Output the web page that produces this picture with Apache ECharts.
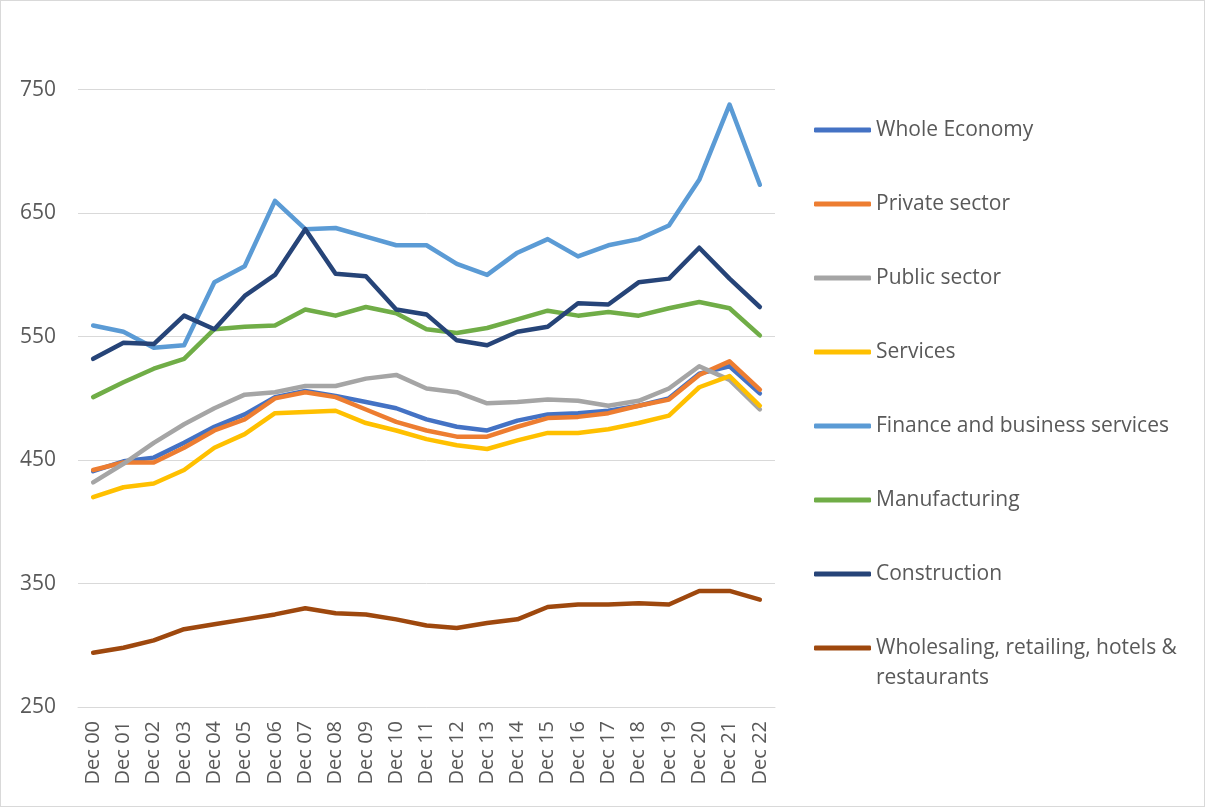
<!DOCTYPE html>
<html>
<head>
<meta charset="utf-8">
<script src="https://cdn.jsdelivr.net/npm/echarts@6/dist/echarts.min.js"></script>
<style>
  html, body { margin: 0; padding: 0; background: #fff; }
  #chart { width: 1203px; height: 805px; border: 1px solid #d9d9d9; }
</style>
</head>
<body>
<div id="chart"></div>
<script>
// categories
var years = ['Dec 00','Dec 01','Dec 02','Dec 03','Dec 04','Dec 05','Dec 06','Dec 07','Dec 08','Dec 09','Dec 10','Dec 11',
             'Dec 12','Dec 13','Dec 14','Dec 15','Dec 16','Dec 17','Dec 18','Dec 19','Dec 20','Dec 21','Dec 22'];

// series values
var wholeEconomy  = [441, 449, 452, 464, 477, 487, 501, 506, 502, 497, 492, 483, 477, 474, 482, 487, 488, 490, 494, 500, 520, 526, 504];
var privateSector = [442, 448, 448, 460, 474, 483, 500, 505, 501, 491, 481, 474, 469, 469, 477, 484, 485, 488, 494, 499, 519, 530, 507];
var publicSector  = [432, 447, 464, 479, 492, 503, 505, 510, 510, 516, 519, 508, 505, 496, 497, 499, 498, 494, 498, 508, 526, 515, 491];
var services      = [420, 428, 431, 442, 460, 471, 488, 489, 490, 480, 474, 467, 462, 459, 466, 472, 472, 475, 480, 486, 509, 518, 494];
var finance       = [559, 554, 541, 543, 594, 607, 660, 637, 638, 631, 624, 624, 609, 600, 618, 629, 615, 624, 629, 640, 677, 738, 673];
var manufacturing = [501, 513, 524, 532, 556, 558, 559, 572, 567, 574, 569, 556, 553, 557, 564, 571, 567, 570, 567, 573, 578, 573, 551];
var construction  = [532, 545, 544, 567, 556, 583, 600, 637, 601, 599, 572, 568, 547, 543, 554, 558, 577, 576, 594, 597, 622, 597, 574];
var wholesaling   = [294, 298, 304, 313, 317, 321, 325, 330, 326, 325, 321, 316, 314, 318, 321, 331, 333, 333, 334, 333, 344, 344, 337];

var seriesNames = ['Whole Economy', 'Private sector', 'Public sector', 'Services',
                   'Finance and business services', 'Manufacturing', 'Construction',
                   'Wholesaling, retailing, hotels & restaurants'];
var seriesData = [wholeEconomy, privateSector, publicSector, services, finance, manufacturing, construction, wholesaling];
var colors = ['#4472C4', '#ED7D31', '#A5A5A5', '#FFC000', '#5B9BD5', '#70AD47', '#264478', '#9E480E'];

var font = '"Open Sans", sans-serif';
var textColor = '#595959';

var chart = echarts.init(document.getElementById('chart'));

var series = seriesNames.map(function (name, i) {
    return {
        name: name,
        type: 'line',
        data: seriesData[i],
        showSymbol: false,
        symbol: 'none',
        color: colors[i],
        lineStyle: { width: 4.5, cap: 'round', join: 'round' }
    };
});

var legendText = { fontFamily: font, fontSize: 21, color: textColor, lineHeight: 30 };

chart.setOption({
    animation: false,
    grid: { left: 77, right: 429, top: 27, bottom: 99 },
    legend: [{
        orient: 'vertical',
        left: 813,
        top: 114,
        padding: 0,
        icon: 'roundRect',
        itemWidth: 57,
        itemHeight: 5,
        itemGap: 44,
        data: seriesNames.slice(0, 7),
        textStyle: legendText
    }, {
        // wrapped item: blank first line keeps the icon level with the first text line
        orient: 'vertical',
        left: 813,
        top: 602,
        padding: 0,
        icon: 'roundRect',
        itemWidth: 57,
        itemHeight: 5,
        data: [seriesNames[7]],
        formatter: function () { return '\u00a0\nWholesaling, retailing, hotels &\nrestaurants'; },
        textStyle: legendText
    }],
    xAxis: {
        type: 'category',
        data: years,
        boundaryGap: true,
        axisLine: { lineStyle: { color: '#d9d9d9', width: 1 } },
        axisTick: { show: false },
        axisLabel: {
            rotate: 90,
            interval: 0,
            margin: 14,
            fontFamily: font,
            fontSize: 20,
            color: textColor
        }
    },
    yAxis: {
        type: 'value',
        min: 250,
        max: 800,
        interval: 50,
        axisLine: { show: false },
        axisTick: { show: false },
        axisLabel: {
            margin: 22,
            fontFamily: font,
            fontSize: 21,
            color: textColor,
            formatter: function (v) {
                return ((v - 250) % 100 === 0 && v < 800) ? String(v) : '';
            }
        },
        splitLine: { lineStyle: { color: ['#d9d9d9', 'rgba(0,0,0,0)'], width: 1 } }
    },
    series: series
});
</script>
</body>
</html>
